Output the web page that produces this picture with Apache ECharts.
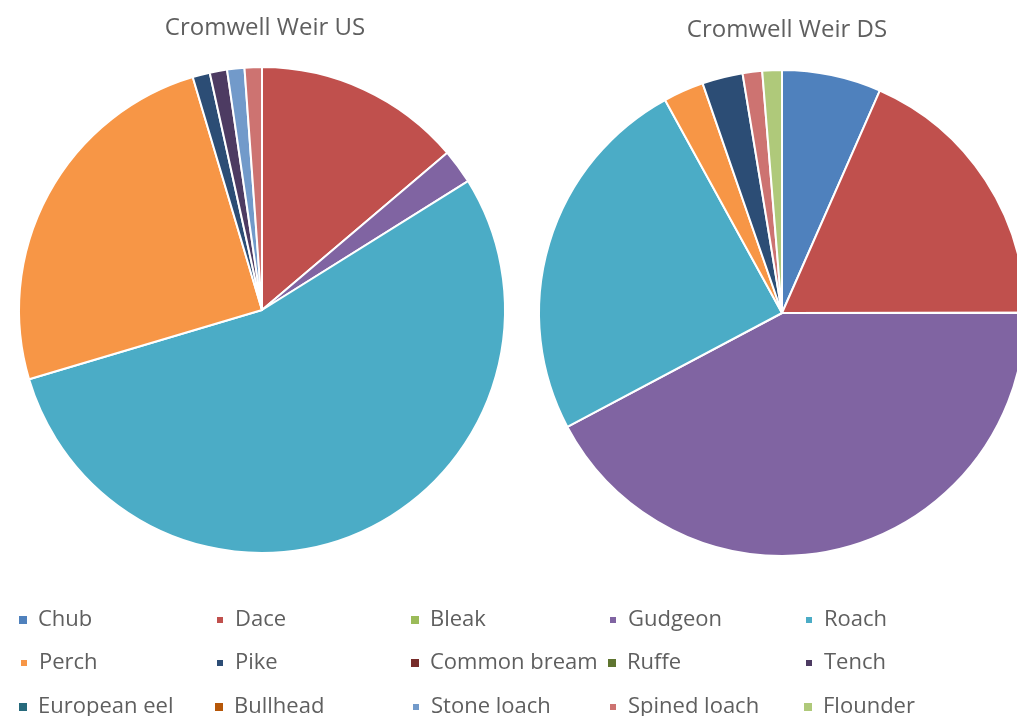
<!DOCTYPE html>
<html><head><meta charset="utf-8">
<script src="https://cdn.jsdelivr.net/npm/echarts@6/dist/echarts.min.js"></script>
<style>html,body{margin:0;padding:0;background:#fff}#c{width:1017px;height:716px}</style>
</head><body><div id="c"></div>
<script>
const species = ['Chub','Dace','Bleak','Gudgeon','Roach','Perch','Pike','Common bream','Ruffe','Tench','European eel','Bullhead','Stone loach','Spined loach','Flounder'];
const colors = ['#4F81BD','#C0504D','#9BBB59','#8064A2','#4BACC6','#F79646','#2C4D75','#772C2A','#5F7530','#4D3B62','#276A7C','#B65708','#729ACA','#CD7371','#AFC97A'];
// percentages of catch
const usValues = [0,13.8,0,2.3,54.3,25.0,1.15,0,0,1.15,0,0,1.15,1.15,0];
const dsValues = [6.6,18.4,0,42.3,24.8,2.7,2.7,0,0,0,0,0,0,1.3,1.3];
const titles = ['Cromwell Weir US','Cromwell Weir DS'];

const font = '"Open Sans", Lato, sans-serif';
function mk(vals){return species.map((n,i)=>({name:n,value:vals[i],itemStyle:{color:colors[i],borderWidth:vals[i]?2:0}}));}
const colX=[19,215,411,608,804], rowY=[609,652,696];
const legends = species.map((n,i)=>({
  data:[n], left: colX[i%5], top: rowY[Math.floor(i/5)], icon:'rect', itemWidth:8, itemHeight:8, itemGap:0,
  selectedMode:false, textStyle:{fontFamily:font,fontSize:22,color:'#5f5f5f',padding:[0,0,0,6]}, padding:0
}));
const chart = echarts.init(document.getElementById('c'),null,{renderer:'canvas'});
chart.setOption({
  animation:false,
  title:[
    {text:titles[0],left:260,top:11,textAlign:'center',textStyle:{fontFamily:font,fontSize:24,fontWeight:'normal',color:'#5f5f5f'}},
    {text:titles[1],left:782,top:13,textAlign:'center',textStyle:{fontFamily:font,fontSize:24,fontWeight:'normal',color:'#5f5f5f'}}
  ],
  legend: legends,
  series:[
    {type:'pie',center:[262,310],radius:243,startAngle:90,label:{show:false},labelLine:{show:false},emphasis:{disabled:true},
     itemStyle:{borderColor:'#fff'},data:mk(usValues)},
    {type:'pie',center:[782,313],radius:243,startAngle:90,label:{show:false},labelLine:{show:false},emphasis:{disabled:true},
     itemStyle:{borderColor:'#fff'},data:mk(dsValues)}
  ]
});
</script></body></html>
